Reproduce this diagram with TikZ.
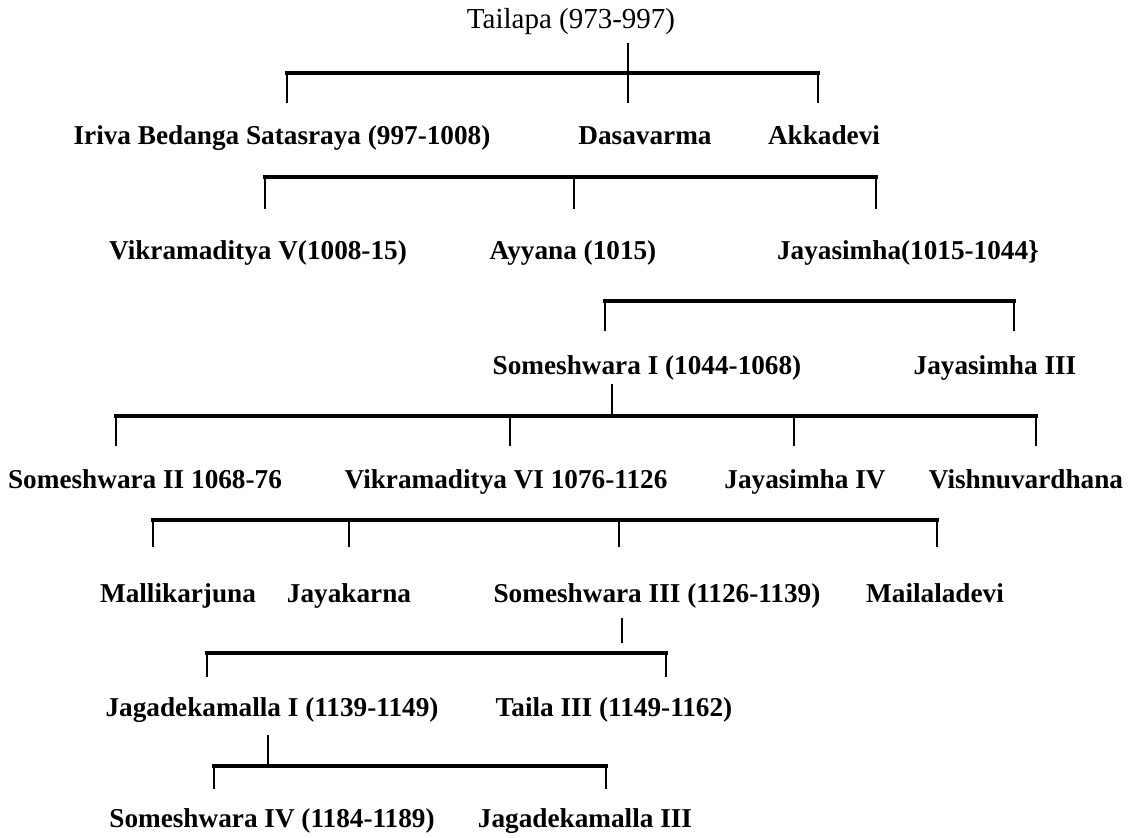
\documentclass[tikz,border=0pt]{standalone}
\usepackage{fontspec}
\setmainfont{Liberation Serif}
\usetikzlibrary{calc}

\tikzset{
  person/.style={inner sep=0pt, anchor=base, text height=11pt, text depth=3pt,
    font=\bfseries\fontsize{15.5}{18}\selectfont},
  sibbar/.style={line width=2.2pt, line cap=rect},
  drop/.style={line width=1.4pt},
}

\begin{document}
\begin{tikzpicture}[x=0.02cm, y=-0.02cm]

  % Page frame, in pixels of the scan
  \path[fill=white, use as bounding box] (0,0) rectangle (1129,838);

  % Generation 1 and 2
  \node[person, font=\fontsize{16.5}{19}\selectfont] (tailapa) at (571,29) {Tailapa (973-997)};
  \node[person] (iriva) at (282,144) {Iriva Bedanga Satasraya (997-1008)};
  \node[person] (dasavarma) at (645,144) {Dasavarma};
  \node[person] (akkadevi) at (824,144) {Akkadevi};

  % Generation 3
  \node[person] (vikramadityaV) at (258,259) {Vikramaditya V(1008-15)};
  \node[person] (ayyana) at (573,259) {Ayyana (1015)};
  \node[person] (jayasimhaII) at (908,259) {Jayasimha(1015-1044\}};

  % Generation 4
  \node[person] (someshwaraI) at (647,374) {Someshwara I (1044-1068)};
  \node[person] (jayasimhaIII) at (995,374) {Jayasimha III};

  % Generation 5
  \node[person] (someshwaraII) at (145,488) {Someshwara II 1068-76};
  \node[person] (vikramadityaVI) at (506,488) {Vikramaditya VI 1076-1126};
  \node[person] (jayasimhaIV) at (805,488) {Jayasimha IV};
  \node[person] (vishnu) at (1026,488) {Vishnuvardhana};

  % Generation 6
  \node[person] (mallikarjuna) at (178,602) {Mallikarjuna};
  \node[person] (jayakarna) at (349,602) {Jayakarna};
  \node[person] (someshwaraIII) at (657,602) {Someshwara III (1126-1139)};
  \node[person] (mailaladevi) at (935,602) {Mailaladevi};

  % Generation 7 and 8
  \node[person] (jagadekamallaI) at (272,716) {Jagadekamalla I (1139-1149)};
  \node[person] (tailaIII) at (614,716) {Taila III (1149-1162)};
  \node[person] (someshwaraIV) at (272,827) {Someshwara IV (1184-1189)};
  \node[person] (jagadekamallaIII) at (585,827) {Jagadekamalla III};

  % Tailapa's children
  \coordinate (b1l) at (287,73);
  \coordinate (b1m) at (628,73);
  \coordinate (b1r) at (818,73);
  \draw[sibbar] (b1l) -- (b1r);
  \draw[drop, shorten <=0.16cm, shorten >=0.42cm] (tailapa.south -| b1m) -- (b1m |- dasavarma.north);
  \foreach \b/\c in {b1l/iriva, b1r/akkadevi}
    \draw[drop, shorten >=0.42cm] (\b) -- (\b |- \c.north);

  % Satasraya's line
  \coordinate (b2l) at (265,177);
  \coordinate (b2m) at (574,177);
  \coordinate (b2r) at (876,177);
  \draw[sibbar] (b2l) -- (b2r);
  \foreach \b/\c in {b2l/vikramadityaV, b2m/ayyana, b2r/jayasimhaII}
    \draw[drop, shorten >=0.6cm] (\b) -- (\b |- \c.north);

  % Jayasimha's sons
  \coordinate (b3l) at (605,301);
  \coordinate (b3r) at (1014,301);
  \draw[sibbar] (b3l) -- (b3r);
  \foreach \b/\c in {b3l/someshwaraI, b3r/jayasimhaIII}
    \draw[drop, shorten >=0.46cm] (\b) -- (\b |- \c.north);

  % Someshwara I's sons
  \coordinate (b4l) at (116,416);
  \coordinate (b4a) at (510,416);
  \coordinate (b4s) at (612,416);
  \coordinate (b4b) at (794,416);
  \coordinate (b4r) at (1036,416);
  \draw[sibbar] (b4l) -- (b4r);
  \draw[drop, shorten <=0.08cm] (someshwaraI.south -| b4s) -- (b4s);
  \foreach \b/\c in {b4l/someshwaraII, b4a/vikramadityaVI, b4b/jayasimhaIV, b4r/vishnu}
    \draw[drop, shorten >=0.44cm] (\b) -- (\b |- \c.north);

  % Vikramaditya VI's children
  \coordinate (b5l) at (153,520);
  \coordinate (b5a) at (349,520);
  \coordinate (b5b) at (619,520);
  \coordinate (b5r) at (937,520);
  \draw[sibbar] (b5l) -- (b5r);
  \foreach \b/\c in {b5l/mallikarjuna, b5a/jayakarna, b5b/someshwaraIII, b5r/mailaladevi}
    \draw[drop, shorten >=0.7cm] (\b) -- (\b |- \c.north);

  % Someshwara III's sons
  \coordinate (b6l) at (207,653);
  \coordinate (b6s) at (622,653);
  \coordinate (b6r) at (666,653);
  \draw[sibbar] (b6l) -- (b6r);
  \draw[drop, shorten <=0.21cm, shorten >=0.2cm] (someshwaraIII.south -| b6s) -- (b6s);
  \foreach \b/\c in {b6l/jagadekamallaI, b6r/tailaIII}
    \draw[drop, shorten >=0.38cm] (\b) -- (\b |- \c.north);

  % Jagadekamalla I's sons
  \coordinate (b7l) at (214,766);
  \coordinate (b7s) at (268,766);
  \coordinate (b7r) at (606,766);
  \draw[sibbar] (b7l) -- (b7r);
  \draw[drop, shorten <=0.27cm] (jagadekamallaI.south -| b7s) -- (b7s);
  \foreach \b/\c in {b7l/someshwaraIV, b7r/jagadekamallaIII}
    \draw[drop, shorten >=0.36cm] (\b) -- (\b |- \c.north);

\end{tikzpicture}
\end{document}
